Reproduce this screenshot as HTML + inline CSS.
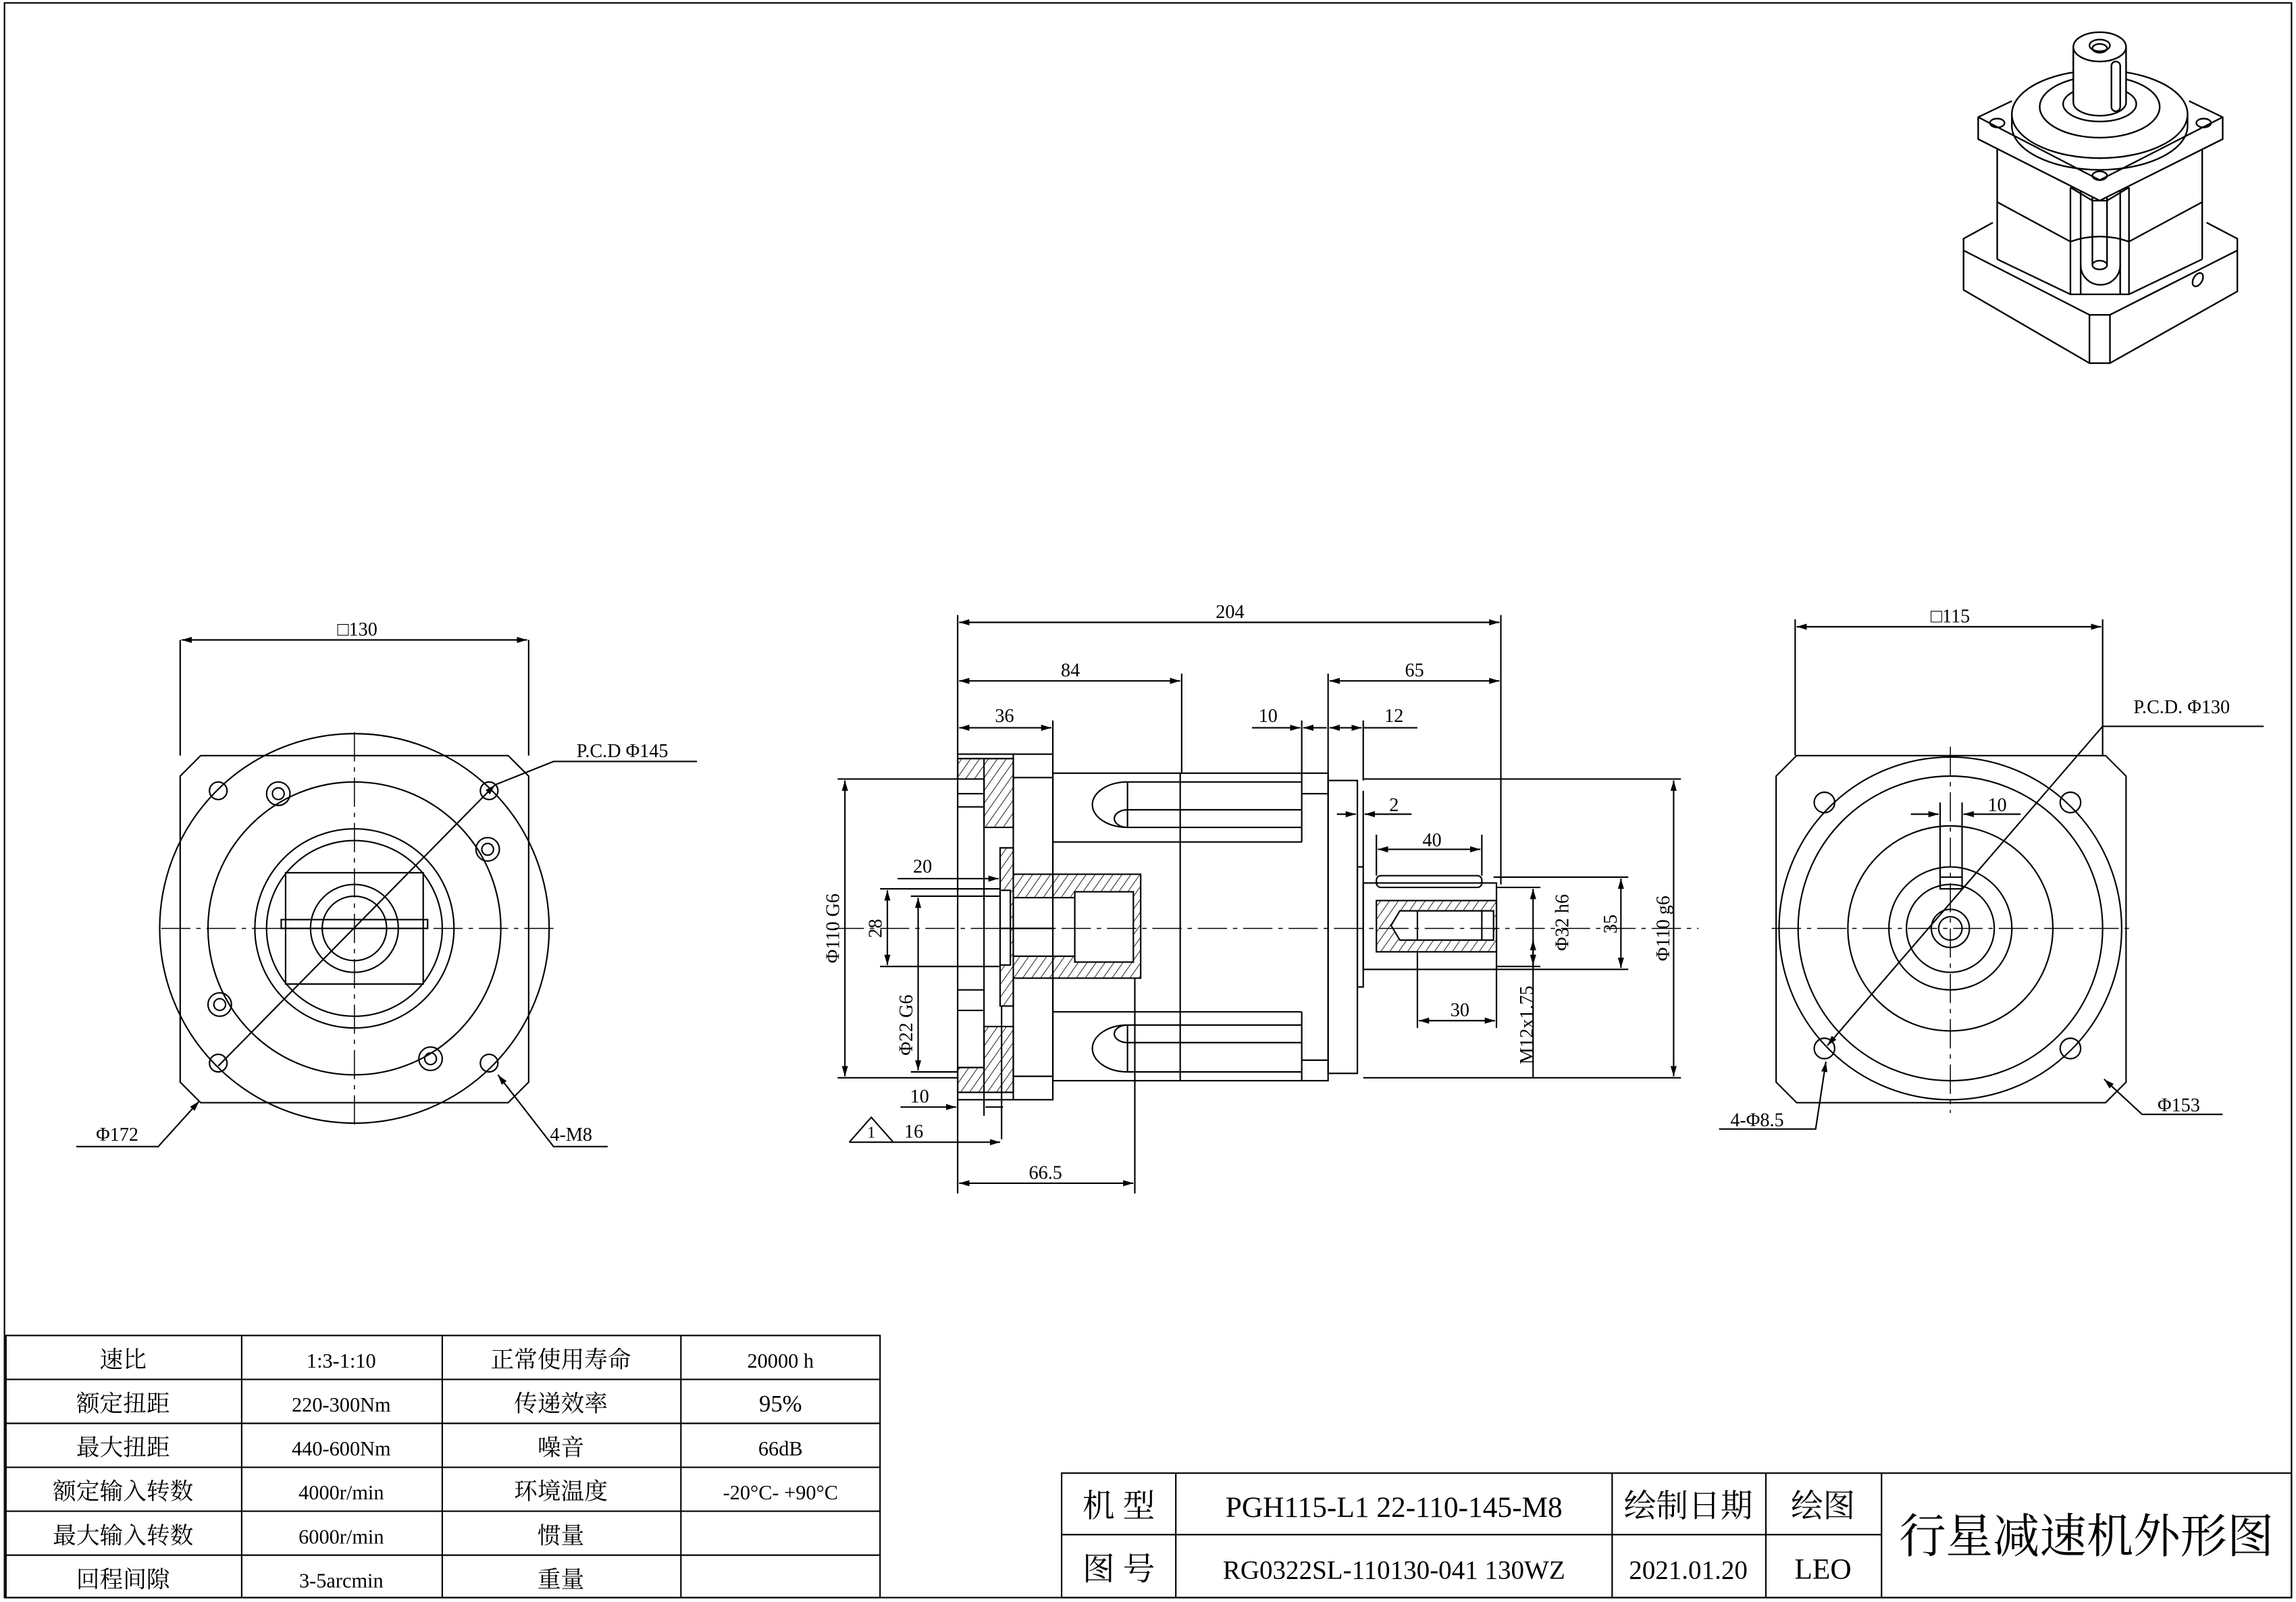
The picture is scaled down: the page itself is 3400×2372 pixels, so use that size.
<!DOCTYPE html>
<html><head><meta charset="utf-8"><style>
html,body{margin:0;padding:0;background:#fff;}
svg{display:block}
text{font-family:"Liberation Serif","Noto Serif CJK SC","Noto Sans CJK SC",serif;fill:#000}
</style></head><body>
<svg width="3400" height="2372" viewBox="0 0 1568 1094" xmlns="http://www.w3.org/2000/svg">
<defs>
<pattern id="h" width="5" height="5" patternUnits="userSpaceOnUse" patternTransform="rotate(35)"><line x1="0" y1="0" x2="0" y2="5" stroke="#000" stroke-width=".8"/></pattern>
<marker id="a" viewBox="0 0 10 10" refX="10" refY="5" markerWidth="7" markerHeight="7" orient="auto-start-reverse"><path d="M0,2 L10,5 L0,8z" fill="#000"/></marker>
</defs>
<g fill="none" stroke="#000" stroke-width="1">
<rect x="3" y="2" width="1562" height="1089"/>

<!-- LEFT VIEW -->
<path d="M137,516 H347 L361,530 V739 L347,753 H137 L123,739 V530 Z"/>
<circle cx="242" cy="634" r="133"/>
<circle cx="242" cy="634" r="100"/>
<circle cx="242" cy="634" r="68"/>
<circle cx="242" cy="634" r="60"/>
<circle cx="242" cy="634" r="30"/>
<circle cx="242" cy="634" r="22"/>
<rect x="195" y="596" width="94" height="76"/>
<rect x="192" y="628" width="100" height="6"/>
<circle cx="149" cy="540" r="6"/><circle cx="190" cy="542" r="8"/><circle cx="190" cy="542" r="4"/>
<circle cx="334" cy="540" r="6"/><circle cx="333" cy="580" r="8"/><circle cx="333" cy="580" r="4"/>
<circle cx="150" cy="686" r="8"/><circle cx="150" cy="686" r="4"/><circle cx="149" cy="726" r="6"/>
<circle cx="294" cy="723" r="8"/><circle cx="294" cy="723" r="4"/><circle cx="334" cy="726" r="6"/>
<path d="M110,634 H380 M242,500 V770" stroke-dasharray="20,4,3,4" stroke-width=".7"/>
<path d="M123,437 V516 M361,437 V516"/>
<path d="M124,437 H360" marker-start="url(#a)" marker-end="url(#a)"/>
<path d="M149,728 L338,536" marker-end="url(#a)"/><path d="M338,536 L378,520 H476"/>
<path d="M52,783 H108 L136,752" marker-end="url(#a)"/>
<path d="M415,783 H378 L340,734" marker-end="url(#a)"/>

<!-- MIDDLE VIEW -->
<path d="M654,518 H692 V565 H672 V532 H654 Z" fill="url(#h)"/>
<path d="M654,746 H692 V701 H672 V729 H654 Z" fill="url(#h)"/>
<rect x="654" y="515" width="65" height="236"/>
<path d="M692,515 V751 M654,518 H692 M654,746 H692 M672,518 V746 M654,542 H672 M654,551 H672 M654,676 H672 M654,690 H672 M692,531 H719 M692,735 H719"/>
<path d="M683,579 H692 V597 H779 V668 H692 V687 H683 Z" fill="url(#h)"/>
<rect x="692" y="613" width="42" height="40" fill="#fff"/>
<rect x="734" y="609" width="40" height="48" fill="#fff"/>
<rect x="683" y="608" width="7" height="51" fill="#fff"/>
<path d="M683,634 H720"/>
<rect x="719" y="528" width="188" height="210"/>
<path d="M806,528 V738"/>
<path d="M719,575 H889 M889,528 V575 M770,534 H889 M770,565 H889 M770,553 H889 M770,534 A24,15.5 0 0 0 770,565 M770,553 A9,6 0 0 0 770,565 M770,534 V565"/>
<path d="M719,691 H889 M889,691 V738 M770,700 H889 M770,732 H889 M770,712 H889 M770,700 A24,16 0 0 0 770,732 M770,700 A9,6 0 0 0 770,712 M770,700 V732"/>
<path d="M889,542 H907 M889,724 H907"/>
<rect x="907" y="533" width="20" height="200"/>
<rect x="927" y="592" width="4" height="82"/>
<rect x="931" y="603" width="91" height="59"/>
<rect x="940" y="598" width="72" height="8" rx="3"/>
<rect x="940" y="615" width="82" height="35" fill="url(#h)"/>
<path d="M1020,622 H956 L950,632 L956,642 H1020 Z" fill="#fff"/>
<path d="M968,622 V642 M1012,622 V642"/>
<path d="M570,634 H1160" stroke-dasharray="20,4,3,4" stroke-width=".7"/>
<!-- dims -->
<path d="M654,420 V515 M1025,420 V604 M807,460 V528 M907,460 V533 M719,492 V515 M889,492 V528 M931,492 V533"/>
<path d="M655,425 H1024" marker-start="url(#a)" marker-end="url(#a)"/>
<path d="M655,465 H806" marker-start="url(#a)" marker-end="url(#a)"/>
<path d="M908,465 H1024" marker-start="url(#a)" marker-end="url(#a)"/>
<path d="M655,497 H718" marker-start="url(#a)" marker-end="url(#a)"/>
<path d="M855,497 H888" marker-end="url(#a)"/><path d="M906,497 H890" marker-end="url(#a)"/>
<path d="M908,497 H930" marker-start="url(#a)" marker-end="url(#a)"/><path d="M931,497 H968"/>
<path d="M931,540 V592"/>
<path d="M913,556 H926" marker-end="url(#a)"/><path d="M964,556 H932" marker-end="url(#a)"/>
<path d="M940,570 V598 M1012,570 V598"/>
<path d="M941,580 H1011" marker-start="url(#a)" marker-end="url(#a)"/>
<path d="M1020,599 H1112 M1020,662 H1112"/>
<path d="M1107,600 V661" marker-start="url(#a)" marker-end="url(#a)"/>
<path d="M931,532 H1148 M931,736 H1148"/>
<path d="M1143,533 V735" marker-start="url(#a)" marker-end="url(#a)"/>
<path d="M1022,606 H1052 M1022,660 H1052"/>
<path d="M1047,607 V659" marker-start="url(#a)" marker-end="url(#a)"/>
<path d="M1047,642 V736" marker-start="url(#a)"/>
<path d="M968,650 V702 M1022,662 V702"/>
<path d="M969,697 H1021" marker-start="url(#a)" marker-end="url(#a)"/>
<path d="M572,532 H654 M572,736 H654"/>
<path d="M577,533 V735" marker-start="url(#a)" marker-end="url(#a)"/>
<path d="M601,607 H683 M601,660 H683"/>
<path d="M606,608 V659" marker-start="url(#a)" marker-end="url(#a)"/>
<path d="M622,612 H683 M622,732 H654"/>
<path d="M627,613 V731" marker-start="url(#a)" marker-end="url(#a)"/>
<path d="M613,600 H682" marker-end="url(#a)"/>
<path d="M615,756 H653" marker-end="url(#a)"/><path d="M673,756 H685"/><path d="M672,746 V762 M684,687 V778"/>
<path d="M580,780 H683" marker-end="url(#a)"/>
<path d="M580,780 L595,763 L610,780"/>
<path d="M654,751 V815 M775,668 V815"/>
<path d="M655,808 H774" marker-start="url(#a)" marker-end="url(#a)"/>

<!-- RIGHT VIEW -->
<path d="M1227,516 H1438 L1452,530 V739 L1438,753 H1227 L1213,739 V530 Z"/>
<circle cx="1332" cy="634" r="117"/>
<circle cx="1332" cy="634" r="104"/>
<circle cx="1332" cy="634" r="70"/>
<circle cx="1332" cy="634" r="42"/>
<circle cx="1332" cy="634" r="30"/>
<circle cx="1332" cy="634" r="13"/>
<circle cx="1332" cy="634" r="8"/>
<rect x="1325" y="599" width="15" height="8"/>
<circle cx="1246" cy="548" r="7"/><circle cx="1414" cy="548" r="7"/>
<circle cx="1246" cy="716" r="7"/><circle cx="1414" cy="716" r="7"/>
<path d="M1210,634 H1455 M1332,510 V760" stroke-dasharray="20,4,3,4" stroke-width=".7"/>
<path d="M1226,423 V516 M1436,423 V516"/>
<path d="M1227,428 H1435" marker-start="url(#a)" marker-end="url(#a)"/>
<path d="M1325,548 V599 M1340,548 V599"/>
<path d="M1305,556 H1324" marker-end="url(#a)"/><path d="M1380,556 H1341" marker-end="url(#a)"/>
<path d="M1248,714 L1436,496 H1546" marker-start="url(#a)"/>
<path d="M1174,771 H1240 L1247,725" marker-end="url(#a)"/>
<path d="M1518,761 H1463 L1437,737" marker-end="url(#a)"/>

<!-- ISO VIEW -->
<g stroke-width="1.1">
<path d="M1361,152 L1341,163 V198 L1427,248 H1441 L1528,199 V163 L1507,152"/>
<path d="M1341,171 L1427,215 H1441 L1528,171 M1427,215 V248 M1441,215 V248"/>
<path d="M1364,101 V177 M1504,101 V177"/>
<path d="M1364,177 L1414,201 H1454 L1504,177"/>
<path d="M1364,138 L1414,165 Q1434,158 1454,165 L1504,138"/>
<path d="M1414,128 V201 M1421,128 V201 M1429,128 V181 M1439,128 V181 M1448,128 V201 M1454,128 V201"/>
<path d="M1414,128 L1429,137 H1439 L1454,128"/>
<path d="M1421,181 A13,13 0 0 0 1448,181"/>
<ellipse cx="1434" cy="181" rx="5" ry="3"/>
<path d="M1374,69 L1351,80 V95 L1434,137 L1518,95 V80 L1495,69" fill="#fff"/>
<path d="M1351,80 L1434,123 L1518,80"/>
<ellipse cx="1434" cy="78" rx="60" ry="30" fill="#fff"/>
<path d="M1374,78 V86 A60,30 0 0 0 1494,86 V78"/>
<ellipse cx="1434" cy="73" rx="41" ry="21"/>
<ellipse cx="1434" cy="71" rx="25" ry="12"/>
<path d="M1416,70 V32 M1452,70 V32" />
<rect x="1416" y="32" width="36" height="38" fill="#fff" stroke="none"/>
<path d="M1416,70 V32 M1452,70 V32"/>
<path d="M1416,70 A18,9 0 0 0 1452,70"/>
<ellipse cx="1434" cy="32" rx="18" ry="10" fill="#fff"/>
<ellipse cx="1434" cy="31" rx="7" ry="4"/>
<ellipse cx="1434" cy="33" rx="5" ry="3"/>
<rect x="1442" y="42" width="6" height="34" rx="3"/>
<ellipse cx="1364" cy="84" rx="5" ry="3"/>
<ellipse cx="1505" cy="84" rx="5" ry="3"/>
<ellipse cx="1434" cy="120" rx="5" ry="3"/>
<ellipse cx="1501" cy="191" rx="3" ry="5" transform="rotate(30 1501 191)"/>
</g>

<!-- TABLE LEFT -->
<rect x="4" y="912" width="597" height="179"/>
<path d="M4,942 H601 M4,972 H601 M4,1002 H601 M4,1032 H601 M4,1062 H601 M165,912 V1091 M302,912 V1091 M465,912 V1091"/>
<!-- TITLE BLOCK -->
<rect x="725" y="1006" width="840" height="85"/>
<path d="M725,1048 H1285 M803,1006 V1091 M1101,1006 V1091 M1206,1006 V1091 M1285,1006 V1091"/>
</g>

<g font-size="13" text-anchor="middle">
<text x="244" y="434">□130</text>
<text x="425" y="517">P.C.D Φ145</text>
<text x="80" y="779">Φ172</text>
<text x="390" y="779">4-M8</text>
<text x="840" y="422">204</text>
<text x="731" y="462">84</text>
<text x="966" y="462">65</text>
<text x="686" y="493">36</text>
<text x="866" y="493">10</text>
<text x="952" y="493">12</text>
<text x="952" y="554">2</text>
<text x="978" y="578">40</text>
<text x="997" y="694">30</text>
<text x="630" y="596">20</text>
<text x="628" y="753">10</text>
<text x="624" y="777">16</text>
<text x="595" y="777" font-size="11">1</text>
<text x="714" y="805">66.5</text>
<text x="1332" y="425">□115</text>
<text x="1490" y="487">P.C.D. Φ130</text>
<text x="1364" y="554">10</text>
<text x="1488" y="759">Φ153</text>
<text x="1200" y="769">4-Φ8.5</text>
<text transform="translate(573,634) rotate(-90)">Φ110 G6</text>
<text transform="translate(602,634) rotate(-90)">28</text>
<text transform="translate(623,700) rotate(-90)">Φ22 G6</text>
<text transform="translate(1104,631) rotate(-90)">35</text>
<text transform="translate(1140,634) rotate(-90)">Φ110 g6</text>
<text transform="translate(1071,630) rotate(-90)">Φ32 h6</text>
<text transform="translate(1047,700) rotate(-90)">M12x1.75</text>
</g>

<g font-size="16" text-anchor="middle">
<text x="84" y="934">速比</text><text x="233" y="934" font-size="14">1:3-1:10</text><text x="383" y="934">正常使用寿命</text><text x="533" y="934" font-size="14">20000 h</text>
<text x="84" y="964">额定扭距</text><text x="233" y="964" font-size="14">220-300Nm</text><text x="383" y="964">传递效率</text><text x="533" y="964">95%</text>
<text x="84" y="994">最大扭距</text><text x="233" y="994" font-size="14">440-600Nm</text><text x="383" y="994">噪音</text><text x="533" y="994" font-size="14">66dB</text>
<text x="84" y="1024">额定输入转数</text><text x="233" y="1024" font-size="14">4000r/min</text><text x="383" y="1024">环境温度</text><text x="533" y="1024" font-size="14">-20°C- +90°C</text>
<text x="84" y="1054">最大输入转数</text><text x="233" y="1054" font-size="14">6000r/min</text><text x="383" y="1054">惯量</text>
<text x="84" y="1084">回程间隙</text><text x="233" y="1084" font-size="14">3-5arcmin</text><text x="383" y="1084">重量</text>
</g>
<g font-size="22" text-anchor="middle">
<text x="764" y="1036">机 型</text>
<text x="764" y="1079">图 号</text>
<text x="952" y="1036" font-size="20">PGH115-L1 22-110-145-M8</text>
<text x="952" y="1078" font-size="18">RG0322SL-110130-041 130WZ</text>
<text x="1153" y="1036">绘制日期</text>
<text x="1153" y="1078" font-size="18">2021.01.20</text>
<text x="1245" y="1036">绘图</text>
<text x="1245" y="1078" font-size="20">LEO</text>
<text x="1425" y="1060" font-size="32">行星减速机外形图</text>
</g>
</svg>
</body></html>
